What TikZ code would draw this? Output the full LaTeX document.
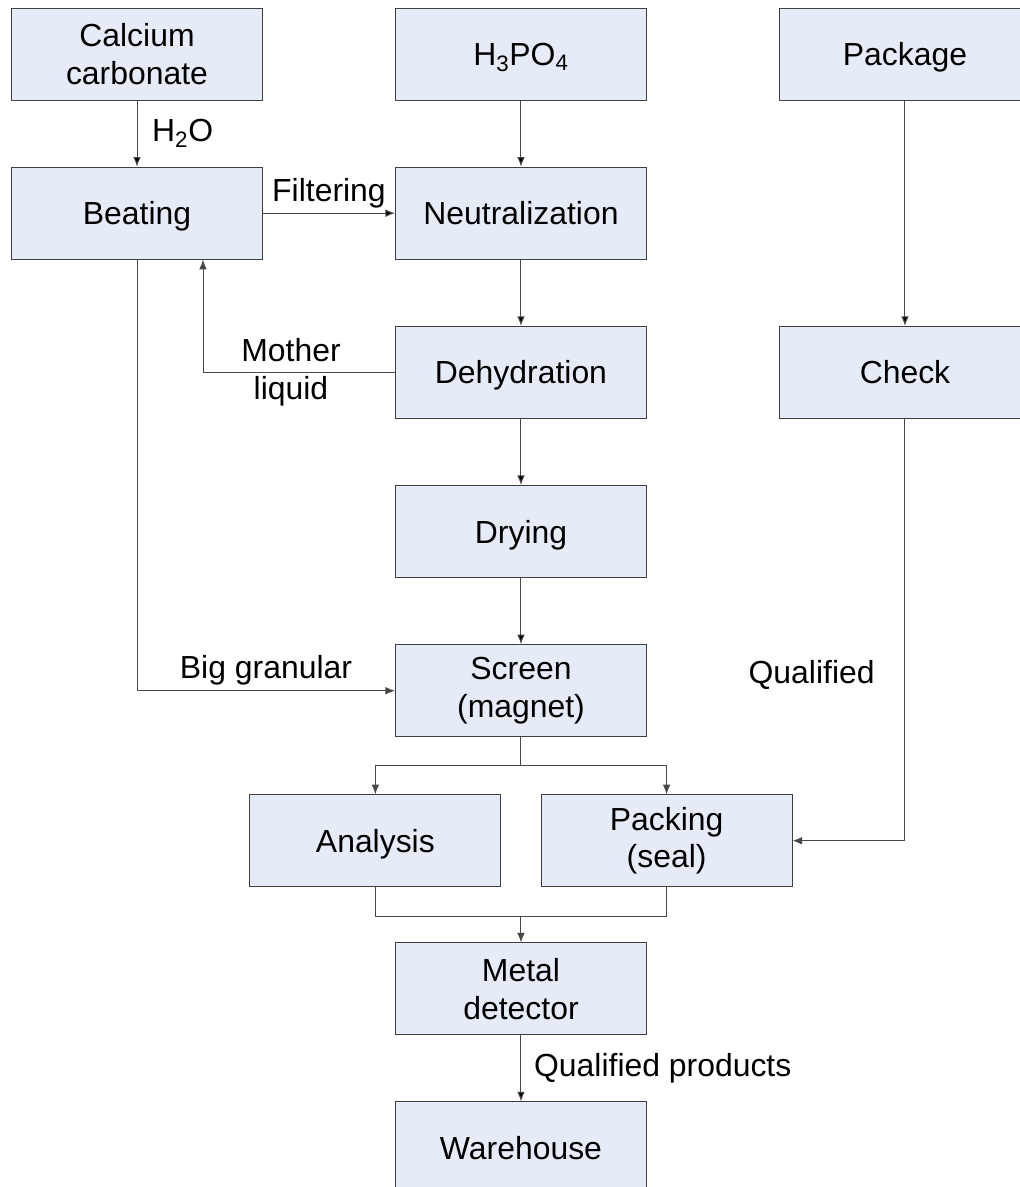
\documentclass[tikz,border=0pt]{standalone}
\usepackage{fontspec}
\setmainfont{Liberation Sans}
\usetikzlibrary{arrows.meta}
\usetikzlibrary{positioning}
\usetikzlibrary{calc}
\definecolor{boxfill}{HTML}{E6ECF7}
\definecolor{boxline}{HTML}{404040}
\definecolor{flowline}{HTML}{484848}
\tikzstyle{proc}=[draw=boxline, fill=boxfill, line width=0.7pt, minimum width=6.275cm, minimum height=2.3cm, inner sep=0pt, align=center]
\tikzstyle{one}=[text height=21.6pt, text depth=5.2pt]
\tikzstyle{flow}=[draw=flowline, line width=0.7pt]

\begin{document}
\begin{tikzpicture}[node distance=1.655cm and 3.3cm,>={Latex[length=2.4mm,width=1.9mm]}]
  \tikzset{
    font={\fontsize{22.7pt}{27pt}\selectfont}
  }
    % page frame, calcium box centred at the origin
    \useasboundingbox (-3.425,1.35) rectangle ++(25.5,-29.675);

    % top row
    \node [proc] (calcium) {Calcium\\carbonate};
    \node [proc, one] (acid) [right=of calcium] {H\textsubscript{3}PO\textsubscript{4}};
    \node [proc, one] (package) [right=of acid] {Package};

    % main line
    \node [proc, one] (beating) [below=of calcium] {Beating};
    \node [proc, one] (neutral) [below=of acid] {Neutralization};
    \node [proc, one] (dehyd) [below=of neutral] {Dehydration};
    \node [proc, one] (check) at (package |- dehyd) {Check};
    \node [proc, one] (drying) [below=of dehyd] {Drying};
    \node [proc] (screen) [below=of drying] {Screen\\(magnet)};
    \node [proc, one] (analysis) [below=1.425cm of screen, xshift=-3.64cm] {Analysis};
    \node [proc] (packing) [below=1.425cm of screen, xshift=3.64cm] {Packing\\(seal)};

    \coordinate (split) at ($(screen.south)+(0,-0.7)$);
    \coordinate (join) at ($(analysis.south -| screen.south)+(0,-0.72)$);
    \coordinate (back) at ($(beating.south)+(1.65,0)$);

    \node [proc] (metal) [below=0.66cm of join] {Metal\\detector};
    \node [proc, one] (store) [below=1.65cm of metal] {Warehouse};

    \path[flow,->] (calcium) edge node [right, xshift=0.25cm] {H\textsubscript{2}O} (beating);
    \path[flow,->] (beating) edge node [above] {Filtering} (neutral);
    \path[flow,->] (acid) edge (neutral);
    \path[flow,->] (neutral) edge (dehyd);
    \path[flow,->] (dehyd) edge (drying);
    \path[flow,->] (drying) edge (screen);
    \path[flow,->] (package) edge (check);

    \draw[flow,->] (dehyd.west) -| node [pos=0.25, xshift=-0.2cm, align=center] {Mother\\liquid} (back);
    \draw[flow,->] (beating.south) |- node [pos=0.75, above] {Big granular} (screen.west);
    \draw[flow,->] (check.south) |- node [pos=0.303, left, xshift=-0.63cm] {Qualified} (packing.east);

    % split and join round analysis and packing
    \draw[flow] (screen.south) -- (split);
    \draw[flow,->] (split) -| (analysis.north);
    \draw[flow,->] (split) -| (packing.north);
    \draw[flow] (analysis.south) |- (join) -| (packing.south);
    \draw[flow,->] (join) -- (metal);

    \path[flow,->] (metal) edge node [right, xshift=0.2cm] {Qualified products} (store);
\end{tikzpicture}
\end{document}
